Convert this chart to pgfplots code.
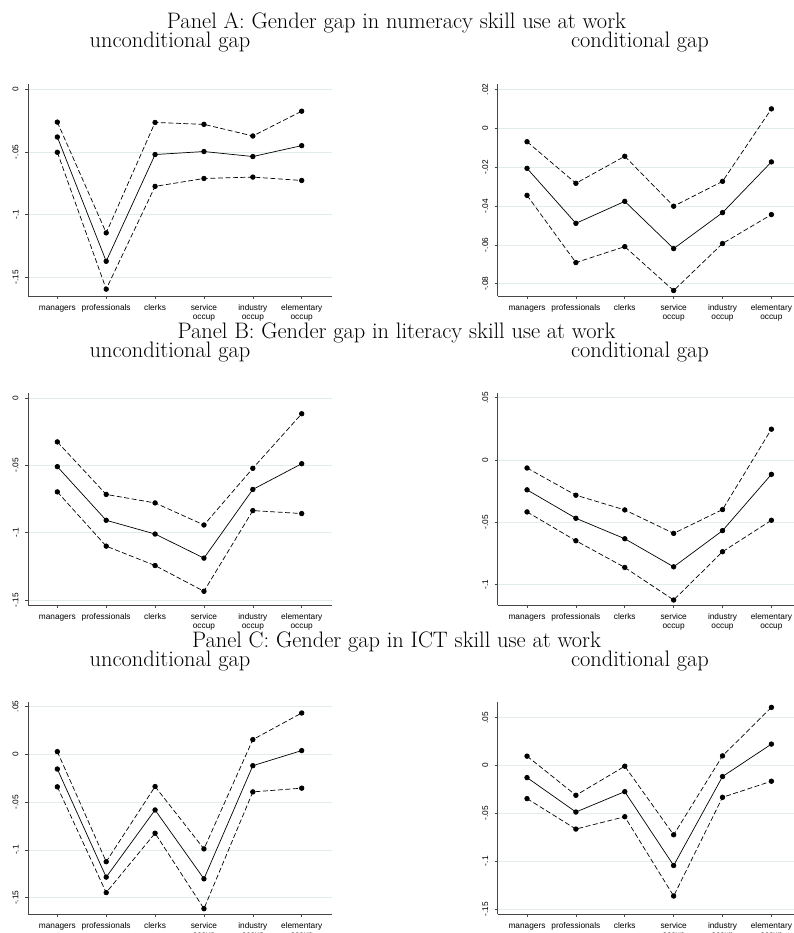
\documentclass[border=0pt]{standalone}
\usepackage{fontspec}
\setsansfont{Liberation Sans}
\usepackage{pgfplots}
\usepackage{pgfplotstable}
\pgfplotsset{compat=1.18}
\definecolor{gridcol}{RGB}{226,236,236}
\definecolor{axcol}{RGB}{70,70,70}
\newcommand\tickfont{\sffamily\fontsize{8.3}{9}\selectfont}
\newcommand\titlefont{\fontsize{22.4}{26}\selectfont}

\pgfplotstableread{
x lo mid hi
0 -0.0503 -0.0381 -0.0262
1 -0.1595 -0.1373 -0.1146
2 -0.0775 -0.0521 -0.0265
3 -0.0712 -0.0497 -0.0280
4 -0.0701 -0.0537 -0.0373
5 -0.0728 -0.0450 -0.0175
}\Aleft
\pgfplotstableread{
x lo mid hi
0 -0.0345 -0.0206 -0.0069
1 -0.0691 -0.0489 -0.0283
2 -0.0609 -0.0376 -0.0144
3 -0.0835 -0.0619 -0.0401
4 -0.0593 -0.0434 -0.0273
5 -0.0444 -0.0173 0.0100
}\Aright
\pgfplotstableread{
x lo mid hi
0 -0.0697 -0.0510 -0.0326
1 -0.1100 -0.0908 -0.0716
2 -0.1244 -0.1010 -0.0779
3 -0.1435 -0.1189 -0.0943
4 -0.0836 -0.0679 -0.0522
5 -0.0858 -0.0488 -0.0117
}\Bleft
\pgfplotstableread{
x lo mid hi
0 -0.0416 -0.0239 -0.0064
1 -0.0647 -0.0467 -0.0282
2 -0.0861 -0.0631 -0.0400
3 -0.1122 -0.0856 -0.0588
4 -0.0735 -0.0566 -0.0397
5 -0.0483 -0.0115 0.0247
}\Bright
\pgfplotstableread{
x lo mid hi
0 -0.0340 -0.0154 0.0028
1 -0.1446 -0.1284 -0.1123
2 -0.0825 -0.0582 -0.0337
3 -0.1614 -0.1302 -0.0989
4 -0.0393 -0.0119 0.0154
5 -0.0354 0.0039 0.0432
}\Cleft
\pgfplotstableread{
x lo mid hi
0 -0.0346 -0.0126 0.0098
1 -0.0664 -0.0486 -0.0311
2 -0.0535 -0.0273 -0.0007
3 -0.1364 -0.1045 -0.0724
4 -0.0332 -0.0115 0.0101
5 -0.0164 0.0224 0.0608
}\Cright

\pgfplotsset{
  gapaxis/.style={
    anchor=south west,
    scale only axis, width=304pt, height=212pt,
    xmin=-0.6, xmax=5.62,
    axis x line*=bottom, axis y line*=left,
    axis line style={axcol, line width=0.8pt, -},
    xtick={0,1,2,3,4,5},
    xticklabels={{\strut managers},{\strut professionals},{\strut clerks},{\strut service\\occup},{\strut industry\\occup},{\strut elementary\\occup}},
    xticklabel style={align=center, font=\tickfont, anchor=north, inner sep=0pt},
    yticklabel style={rotate=90, anchor=south, font=\tickfont, inner sep=0pt},
    xticklabel shift=4.7pt, yticklabel shift=6.3pt,
    scaled y ticks=false,
    tick align=outside, major tick length=3pt,
    tick style={axcol, line width=0.6pt},
    ymajorgrids, grid style={gridcol, line width=0.7pt},
    clip=false,
  },
  ci/.style={black, line width=0.7pt, dash pattern=on 5pt off 2.5pt, mark=*, mark size=2.3pt, mark options={solid, fill=black}},
  est/.style={black, line width=0.7pt, solid, mark=*, mark size=2.3pt, mark options={fill=black}},
}

\begin{document}
\begin{tikzpicture}
\useasboundingbox (0pt,0pt) rectangle (793pt,-933pt);
% Panel A
\node[anchor=base, font=\titlefont, inner sep=0pt] at (396.5pt,-29pt) {Panel A: Gender gap in numeracy skill use at work};
\node[anchor=base, font=\titlefont, inner sep=0pt] at (170pt,-48pt) {unconditional gap};
\node[anchor=base, font=\titlefont, inner sep=0pt] at (640pt,-48pt) {conditional gap};
\begin{axis}[gapaxis, at={(28pt,-296pt)}, ymin=-0.165, ymax=0.0042,
  ytick={-0.15,-0.1,-0.05,0}, yticklabels={-.15,-.1,-.05,0}]
\addplot[ci] table[x=x,y=hi]{\Aleft};
\addplot[est] table[x=x,y=mid]{\Aleft};
\addplot[ci] table[x=x,y=lo]{\Aleft};
\end{axis}
\begin{axis}[gapaxis, at={(497.7pt,-296pt)}, ymin=-0.0863, ymax=0.0228,
  ytick={-0.08,-0.06,-0.04,-0.02,0,0.02}, yticklabels={-.08,-.06,-.04,-.02,0,.02}]
\addplot[ci] table[x=x,y=hi]{\Aright};
\addplot[est] table[x=x,y=mid]{\Aright};
\addplot[ci] table[x=x,y=lo]{\Aright};
\end{axis}
% Panel B
\node[anchor=base, font=\titlefont, inner sep=0pt] at (396.5pt,-338pt) {Panel B: Gender gap in literacy skill use at work};
\node[anchor=base, font=\titlefont, inner sep=0pt] at (170pt,-357pt) {unconditional gap};
\node[anchor=base, font=\titlefont, inner sep=0pt] at (640pt,-357pt) {conditional gap};
\begin{axis}[gapaxis, at={(28pt,-605pt)}, ymin=-0.1537, ymax=0.0037,
  ytick={-0.15,-0.1,-0.05,0}, yticklabels={-.15,-.1,-.05,0}]
\addplot[ci] table[x=x,y=hi]{\Bleft};
\addplot[est] table[x=x,y=mid]{\Bleft};
\addplot[ci] table[x=x,y=lo]{\Bleft};
\end{axis}
\begin{axis}[gapaxis, at={(497.7pt,-605pt)}, ymin=-0.1162, ymax=0.0537,
  ytick={-0.1,-0.05,0,0.05}, yticklabels={-.1,-.05,0,.05}]
\addplot[ci] table[x=x,y=hi]{\Bright};
\addplot[est] table[x=x,y=mid]{\Bright};
\addplot[ci] table[x=x,y=lo]{\Bright};
\end{axis}
% Panel C
\node[anchor=base, font=\titlefont, inner sep=0pt] at (396.5pt,-647pt) {Panel C: Gender gap in ICT skill use at work};
\node[anchor=base, font=\titlefont, inner sep=0pt] at (170pt,-666pt) {unconditional gap};
\node[anchor=base, font=\titlefont, inner sep=0pt] at (640pt,-666pt) {conditional gap};
\begin{axis}[gapaxis, at={(28pt,-914pt)}, ymin=-0.167, ymax=0.0547,
  ytick={-0.15,-0.1,-0.05,0,0.05}, yticklabels={-.15,-.1,-.05,0,.05}]
\addplot[ci] table[x=x,y=hi]{\Cleft};
\addplot[est] table[x=x,y=mid]{\Cleft};
\addplot[ci] table[x=x,y=lo]{\Cleft};
\end{axis}
\begin{axis}[gapaxis, at={(497.7pt,-914pt)}, ymin=-0.1552, ymax=0.0664,
  ytick={-0.15,-0.1,-0.05,0,0.05}, yticklabels={-.15,-.1,-.05,0,.05}]
\addplot[ci] table[x=x,y=hi]{\Cright};
\addplot[est] table[x=x,y=mid]{\Cright};
\addplot[ci] table[x=x,y=lo]{\Cright};
\end{axis}
\end{tikzpicture}
\end{document}
